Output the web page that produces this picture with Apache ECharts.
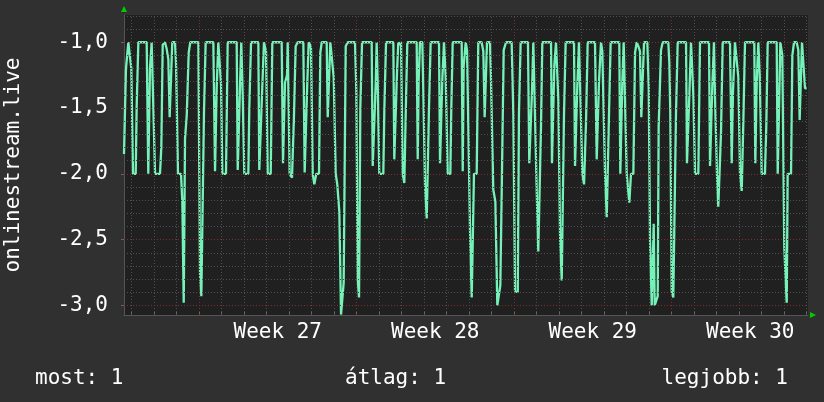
<!DOCTYPE html>
<html>
<head>
<meta charset="utf-8">
<script src="https://cdn.jsdelivr.net/npm/echarts@6/dist/echarts.min.js"></script>
<style>
  html, body { margin: 0; padding: 0; background: #303030; }
  #chart { width: 824px; height: 402px; }
</style>
</head>
<body>
<div id="chart"></div>
<script>
// hours since the left edge of the graph, and the value at each vertex of the trace
const sampleHours = [
  0, 2.1, 4.6, 6.7, 7.8, 9.6, 12.5, 13.5, 15.3, 24.2,
  25.9, 27.7, 29.5, 31.3, 33.1, 38.4, 39.8, 41.3, 43.7, 45.5,
  47.3, 48.7, 50.1, 51.5, 54.4, 55.5, 57.6, 60.8, 62.2, 63.7,
  65.1, 66.9, 69.0, 70.7, 79.3, 81.1, 82.5, 84.3, 85.3, 87.1,
  95.3, 97.1, 98.9, 100.6, 102.4, 103.5, 104.9, 108.8, 110.6, 120.2,
  121.3, 122.7, 123.7, 125.1, 126.6, 128.3, 132.6, 133.7, 135.5, 143.3,
  144.3, 146.1, 147.5, 149.3, 150.4, 151.5, 153.3, 156.5, 158.2, 168.2,
  169.6, 170.7, 171.7, 173.9, 174.6, 175.7, 176.7, 178.1, 179.2, 181.3,
  183.1, 185.3, 191.3, 192.7, 194.1, 195.5, 197.0, 198.4, 199.5, 201.3,
  203.0, 205.1, 208.0, 209.4, 210.9, 216.2, 217.3, 218.7, 220.1, 221.9,
  223.7, 225.8, 227.5, 229.7, 231.5, 233.3, 234.3, 236.5, 238.6, 246.4,
  247.8, 249.3, 250.7, 252.1, 253.9, 264.2, 265.3, 266.7, 268.5, 269.5,
  270.6, 272.3, 276.6, 277.7, 279.5, 287.3, 288.3, 290.1, 291.2, 292.6,
  294.1, 295.5, 296.2, 297.3, 299.0, 300.8, 302.2, 312.2, 313.3, 314.3,
  315.7, 318.2, 319.3, 321.1, 322.9, 324.0, 325.3, 327.1, 336.0, 337.1,
  338.1, 339.5, 341.3, 343.1, 345.3, 348.1, 349.1, 350.6, 360.2, 361.3,
  362.3, 364.5, 365.9, 367.3, 369.1, 370.9, 372.3, 373.3, 376.2, 377.9,
  381.5, 383.3, 384.7, 386.1, 387.2, 390.4, 391.5, 393.9, 396.1, 398.2,
  400.3, 401.4, 402.9, 405.0, 407.5, 413.5, 415.3, 417.1, 420.0, 421.3,
  423.1, 430.9, 432.3, 434.1, 435.2, 436.6, 438.4, 440.2, 441.9, 443.7,
  444.8, 446.2, 455.5, 456.5, 457.6, 459.0, 460.8, 462.2, 463.3, 465.1,
  466.9, 468.0, 469.3, 471.1, 480.0, 481.1, 482.1, 483.5, 485.3, 486.4,
  488.9, 490.7, 491.7, 492.8, 494.6, 502.4, 504.2, 505.3, 506.7, 508.8,
  510.2, 513.1, 514.9, 516.0, 517.3, 519.1, 528.3, 529.4, 530.5, 531.5,
  533.0, 534.4, 536.2, 537.9, 539.0, 540.1, 540.8, 543.3, 545.1, 546.9,
  548.6, 550.4, 551.8, 553.3, 554.7, 558.2, 559.7, 561.1, 562.9, 564.3,
  565.0, 566.1, 567.8, 569.3, 570.3, 572.8, 574.6, 580.6, 581.7, 582.7,
  584.2, 585.9, 587.7, 588.8, 590.6, 599.5, 600.5, 601.9, 603.0, 604.8,
  606.2, 607.3, 609.1, 612.6, 614.4, 624.0, 625.1, 626.5, 627.5, 629.3,
  630.4, 632.5, 633.9, 635.7, 636.8, 638.6, 646.4, 648.2, 649.6, 651.7,
  653.5, 655.3, 657.1, 658.9, 660.6, 662.4, 672.3, 673.4, 674.9, 676.6,
  678.1, 680.2, 683.7, 685.1, 686.6, 696.2, 697.3, 698.7, 700.1, 702.2,
  704.3, 706.9, 707.9, 711.5, 712.9, 714.7, 717.5, 719.3, 720.7, 722.1,
  723.2, 725.3, 726.4, 728.2
];
const sampleValues = [
  -1.85, -1.2, -1.0, -1.0, -1.2, -2.0, -2.0, -1.49, -1.0, -1.0,
  -2.0, -1.2, -1.0, -1.0, -2.0, -2.0, -1.8, -1.02, -1.0, -1.05,
  -1.13, -1.57, -1.57, -1.0, -1.0, -1.16, -2.0, -2.0, -2.21, -2.98,
  -1.73, -1.56, -1.08, -1.0, -1.0, -2.76, -2.93, -2.93, -1.54, -1.0,
  -1.0, -1.98, -1.34, -1.0, -1.0, -1.32, -2.0, -2.0, -1.0, -1.0,
  -1.97, -1.97, -1.34, -1.0, -1.4, -2.0, -2.0, -1.49, -1.0, -1.0,
  -1.97, -1.97, -1.34, -1.0, -1.0, -1.07, -2.0, -2.0, -1.0, -1.0,
  -1.92, -1.92, -1.31, -1.25, -1.0, -1.0, -2.0, -2.0, -2.03, -1.56,
  -1.03, -1.0, -1.0, -1.99, -1.99, -1.31, -1.0, -1.02, -1.05, -2.0,
  -2.08, -2.0, -2.0, -1.08, -1.0, -1.0, -1.57, -1.57, -1.0, -1.0,
  -1.27, -2.0, -2.08, -2.29, -3.07, -3.07, -2.83, -1.03, -1.0, -1.0,
  -1.37, -2.8, -2.94, -1.49, -1.0, -1.0, -1.94, -1.94, -1.31, -1.0,
  -1.31, -2.0, -2.0, -1.51, -1.0, -1.0, -1.89, -1.89, -1.23, -1.0,
  -1.02, -1.0, -1.0, -2.0, -2.07, -1.44, -1.0, -1.0, -1.89, -1.29,
  -1.0, -1.0, -1.39, -2.09, -2.34, -2.34, -1.51, -1.0, -1.0, -1.92,
  -1.92, -1.29, -1.0, -1.26, -2.0, -2.0, -1.51, -1.0, -1.0, -1.98,
  -1.18, -1.0, -1.06, -1.07, -2.43, -2.94, -2.94, -2.0, -2.0, -1.0,
  -1.0, -1.07, -1.57, -1.57, -1.0, -1.0, -1.3, -2.12, -2.21, -3.0,
  -3.0, -2.85, -2.13, -1.06, -1.0, -1.0, -1.55, -2.89, -2.9, -1.54,
  -1.0, -1.0, -1.92, -1.92, -1.37, -1.0, -1.0, -2.12, -2.59, -2.59,
  -1.64, -1.0, -1.0, -1.92, -1.92, -1.18, -1.0, -1.0, -1.44, -2.46,
  -2.81, -2.81, -1.56, -1.0, -1.0, -1.94, -1.94, -1.34, -1.0, -1.0,
  -2.0, -2.08, -2.08, -1.61, -1.0, -1.0, -1.89, -1.89, -1.29, -1.0,
  -1.07, -2.0, -2.33, -2.33, -1.56, -1.0, -1.0, -2.0, -2.0, -1.31,
  -1.0, -1.0, -2.0, -2.0, -2.22, -2.22, -2.0, -2.0, -1.08, -1.0,
  -1.03, -1.07, -1.57, -1.57, -1.0, -1.0, -1.35, -2.5, -3.0, -3.0,
  -2.38, -3.0, -3.0, -2.93, -1.64, -1.06, -1.0, -1.0, -1.16, -1.54,
  -2.89, -2.94, -2.94, -1.54, -1.0, -1.0, -1.92, -1.92, -1.41, -1.0,
  -1.0, -1.4, -2.0, -2.0, -1.0, -1.0, -1.94, -1.94, -1.34, -1.0,
  -1.42, -2.0, -2.25, -2.25, -1.69, -1.0, -1.0, -1.92, -1.37, -1.0,
  -1.0, -1.27, -2.0, -2.13, -1.61, -1.0, -1.0, -1.92, -1.31, -1.0,
  -1.25, -2.0, -2.0, -1.64, -1.0, -1.0, -2.0, -2.0, -1.0, -1.1,
  -2.56, -2.98, -2.0, -2.0, -1.1, -1.0, -1.0, -1.06, -1.59, -1.59,
  -1.0, -1.0, -1.35, -1.35
];

// axis range and labels
const xRange = [0, 729.6];
const yRange = [-3.073, -0.793];
const yLabelValues = [-3.0, -2.5, -2.0, -1.5, -1.0];
const yMinorValues = [-0.8, -0.9, -1.1, -1.2, -1.3, -1.4, -1.6, -1.7, -1.8, -1.9,
  -2.1, -2.2, -2.3, -2.4, -2.6, -2.7, -2.8, -2.9];
const weekStarts = [80, 248, 416, 584];
const weekCenters = [164, 332, 500, 668];
const weekLabels = ['Week 27', 'Week 28', 'Week 29', 'Week 30'];
const dayStarts = [];
for (let h = 8; h <= xRange[1]; h += 24) dayStarts.push(h);
const legendTexts = ['most: 1', 'átlag: 1', 'legjobb: 1'];
const seriesName = 'onlinestream.live';

const FONT = 'DejaVu Sans Mono';
const minorStyle = { color: '#505050', type: [1, 2], width: 1 };
const majorStyle = { color: '#7a2e2e', type: [1, 2], width: 1 };

const gridLines = [
  ...dayStarts.map(h => ({ xAxis: h, lineStyle: minorStyle })),
  ...yMinorValues.map(v => ({ yAxis: v, lineStyle: minorStyle })),
  ...weekStarts.map(h => ({ xAxis: h, lineStyle: majorStyle })),
  ...yLabelValues.map(v => ({ yAxis: v, lineStyle: majorStyle }))
];

const chart = echarts.init(document.getElementById('chart'), null, { renderer: 'canvas' });

const textBase = { color: '#fff', fontSize: 21, fontWeight: 'normal', fontFamily: FONT };

chart.setOption({
  backgroundColor: '#303030',
  animation: false,
  textStyle: { fontFamily: FONT },
  title: [
    { text: legendTexts[0], left: 30, top: 363, textStyle: textBase },
    { text: legendTexts[1], left: 340, top: 363, textStyle: textBase },
    { text: legendTexts[2], right: 31, top: 363, textStyle: textBase }
  ],
  grid: {
    left: 124, right: 16, top: 15, bottom: 87,
    containLabel: false,
    outerBoundsMode: 'none',
    show: true, backgroundColor: '#202020', borderWidth: 0
  },
  xAxis: {
    type: 'value',
    min: xRange[0],
    max: xRange[1],
    splitLine: { show: false },
    axisLine: { show: true, onZero: false, lineStyle: { color: '#555', width: 1 } },
    axisTick: { show: true, inside: true, length: 3, customValues: dayStarts, lineStyle: { color: '#666' } },
    axisLabel: {
      customValues: weekCenters,
      color: '#fff',
      fontSize: 21,
      fontFamily: FONT,
      margin: 7,
      formatter: v => weekLabels[weekCenters.indexOf(v)] || ''
    }
  },
  yAxis: {
    type: 'value',
    min: yRange[0],
    max: yRange[1],
    name: seriesName,
    nameLocation: 'middle',
    nameRotate: 90,
    nameGap: 100,
    nameTextStyle: { color: '#fff', fontSize: 21, fontFamily: FONT },
    splitLine: { show: false },
    axisLine: { show: true, lineStyle: { color: '#555', width: 1 } },
    axisTick: { show: true, length: 3, customValues: yLabelValues, lineStyle: { color: '#666' } },
    axisLabel: {
      customValues: yLabelValues,
      color: '#fff',
      fontSize: 21,
      fontFamily: FONT,
      margin: 16,
      formatter: v => v.toFixed(1).replace('.', ',')
    }
  },
  series: [
    {
      type: 'line',
      data: [],
      silent: true,
      z: 1,
      markLine: {
        silent: true,
        symbol: 'none',
        label: { show: false },
        data: gridLines
      }
    },
    {
      name: seriesName,
      type: 'line',
      z: 3,
      showSymbol: false,
      lineStyle: { color: '#74f2b8', width: 2.3 },
      itemStyle: { color: '#74f2b8' },
      data: sampleHours.map((h, i) => [h, sampleValues[i]])
    }
  ],
  graphic: [
    { type: 'polygon', shape: { points: [[121, 12], [127, 12], [124, 6]] }, style: { fill: '#00cc00' } },
    { type: 'polygon', shape: { points: [[810, 312], [810, 318], [816, 315]] }, style: { fill: '#00cc00' } }
  ]
});
</script>
</body>
</html>
